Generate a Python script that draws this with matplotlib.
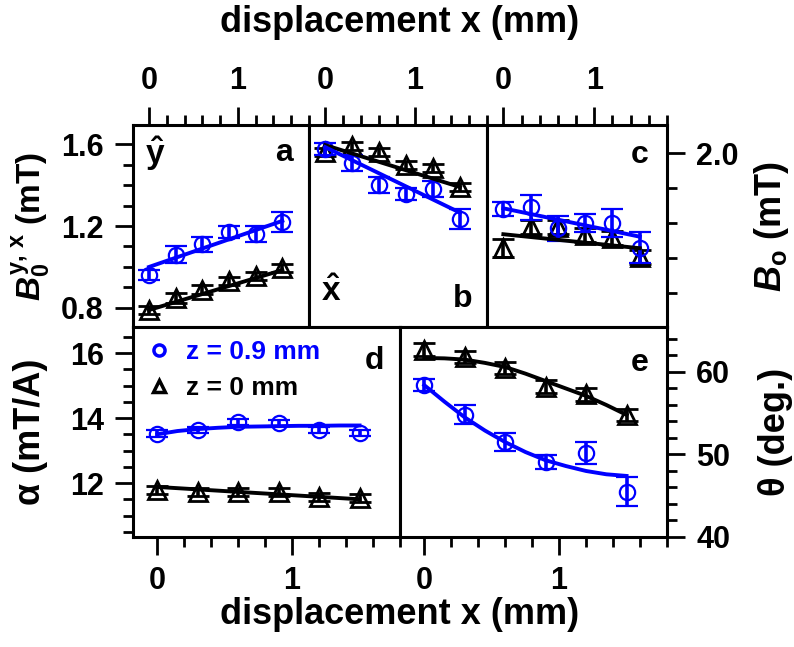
import numpy as np
import matplotlib.pyplot as plt
from matplotlib.lines import Line2D
from matplotlib.ticker import MultipleLocator

plt.rcParams['font.family'] = ['Liberation Sans', 'DejaVu Sans']
plt.rcParams['font.weight'] = 'bold'
plt.rcParams['axes.labelweight'] = 'bold'
plt.rcParams['mathtext.fontset'] = 'custom'
plt.rcParams['mathtext.rm'] = 'Liberation Sans:bold'
plt.rcParams['mathtext.it'] = 'Liberation Sans:bold:italic'
plt.rcParams['mathtext.bf'] = 'Liberation Sans:bold'

# displacement positions (mm)
x_pos = [0.0, 0.3, 0.6, 0.9, 1.2, 1.5]
fit_x_line = [0.0, 1.5]
fit_x_curve = [0.0, 0.15, 0.3, 0.45, 0.6, 0.75, 0.9, 1.05, 1.2, 1.35, 1.5]

# a: B0^y (mT)
a_blue = [0.96, 1.06, 1.11, 1.17, 1.16, 1.22]
a_blue_err = [0.025, 0.04, 0.035, 0.03, 0.04, 0.05]
a_black = [0.79, 0.85, 0.89, 0.93, 0.955, 0.995]
a_black_err = [0.02, 0.025, 0.02, 0.02, 0.02, 0.02]
a_fit_blue = [1.0, 1.225]
a_fit_black = [0.79, 0.985]

# b: B0^x (mT)
b_blue = [1.576, 1.507, 1.40, 1.356, 1.38, 1.234]
b_blue_err = [0.03, 0.04, 0.04, 0.03, 0.04, 0.05]
b_black = [1.561, 1.59, 1.561, 1.498, 1.483, 1.39]
b_black_err = [0.02, 0.02, 0.02, 0.02, 0.02, 0.02]
b_fit_blue = [1.585, 1.265]
b_fit_black = [1.595, 1.39]

# c: B_o (mT)
c_blue = [1.84, 1.845, 1.785, 1.80, 1.80, 1.73]
c_blue_err = [0.02, 0.035, 0.035, 0.025, 0.04, 0.045]
c_black = [1.728, 1.79, 1.788, 1.766, 1.756, 1.704]
c_black_err = [0.025, 0.02, 0.02, 0.02, 0.02, 0.02]
c_fit_blue = [1.842, 1.761]
c_fit_black = [1.768, 1.728]

# d: alpha (mT/A)
d_blue = [13.52, 13.63, 13.88, 13.85, 13.63, 13.54]
d_blue_err = [0.1, 0.1, 0.1, 0.1, 0.1, 0.1]
d_black = [11.78, 11.72, 11.72, 11.72, 11.57, 11.54]
d_black_err = [0.12, 0.12, 0.12, 0.12, 0.12, 0.12]
d_fit_blue = [13.5, 13.6, 13.66, 13.7, 13.73, 13.74, 13.75, 13.76, 13.76, 13.77, 13.77]
d_fit_black = [11.88, 11.5]

# e: theta (deg.)
e_blue = [58.4, 54.8, 51.5, 49.1, 50.2, 45.5]
e_blue_err = [0.75, 1.15, 1.1, 0.8, 1.3, 1.8]
e_black = [62.7, 61.8, 60.5, 58.2, 57.3, 54.8]
e_black_err = [0.8, 0.7, 0.7, 0.8, 0.8, 0.7]
e_fit_blue = [58.4, 56.4, 54.5, 52.9, 51.5, 50.3, 49.3, 48.6, 48.0, 47.6, 47.4]
e_fit_black = [61.7, 61.65, 61.5, 61.1, 60.6, 59.8, 58.9, 58.0, 57.1, 56.0, 54.8]

BLUE = '#0000ff'
W, H = 794, 647
TICK_FS = 22
LABEL_FS = 26


def rect(x0, y0, x1, y1):
    return [x0 / W, 1 - y1 / H, (x1 - x0) / W, (y1 - y0) / H]


def draw(ax, blue, blue_err, black, black_err, fit_blue, fit_black, fxb, fxk):
    ax.errorbar(x_pos, black, yerr=black_err, fmt='^', ms=13.5, mfc='none', mec='k',
                mew=2.0, ecolor='k', elinewidth=2.6, capsize=8, capthick=3, zorder=3)
    ax.errorbar(x_pos, blue, yerr=blue_err, fmt='o', ms=11, mfc='none', mec=BLUE,
                mew=1.6, ecolor=BLUE, elinewidth=2.6, capsize=8, capthick=3, zorder=4)
    ax.plot(fxk, fit_black, color='k', lw=2.8, zorder=5)
    ax.plot(fxb, fit_blue, color=BLUE, lw=2.8, zorder=6)


def style(ax, top=False, bottom=False, left=False, right=False):
    ax.set_xlim(-0.18, 1.8)
    ax.xaxis.set_major_locator(MultipleLocator(1))
    ax.xaxis.set_minor_locator(MultipleLocator(0.2))
    for sp in ax.spines.values():
        sp.set_linewidth(2.2)
    ax.tick_params(which='both', direction='out', width=2, labelsize=TICK_FS,
                   top=top, bottom=bottom, left=left, right=right,
                   labeltop=top, labelbottom=bottom, labelleft=left, labelright=right)
    ax.tick_params(which='major', length=13, pad=8)
    ax.tick_params(which='minor', length=7)


fig = plt.figure(figsize=(W / 100, H / 100), dpi=100)

ax_a = fig.add_axes(rect(133, 125, 309, 327))
ax_b = fig.add_axes(rect(309, 125, 487, 327))
ax_c = fig.add_axes(rect(487, 125, 667, 327))
ax_d = fig.add_axes(rect(133, 327, 400, 537))
ax_e = fig.add_axes(rect(400, 327, 667, 537))

draw(ax_a, a_blue, a_blue_err, a_black, a_black_err, a_fit_blue, a_fit_black, fit_x_line, fit_x_line)
draw(ax_b, b_blue, b_blue_err, b_black, b_black_err, b_fit_blue, b_fit_black, fit_x_line, fit_x_line)
draw(ax_c, c_blue, c_blue_err, c_black, c_black_err, c_fit_blue, c_fit_black, fit_x_line, fit_x_line)
draw(ax_d, d_blue, d_blue_err, d_black, d_black_err, d_fit_blue, d_fit_black, fit_x_curve, fit_x_line)
draw(ax_e, e_blue, e_blue_err, e_black, e_black_err, e_fit_blue, e_fit_black, fit_x_curve, fit_x_curve)

style(ax_a, top=True, left=True)
style(ax_b, top=True)
style(ax_c, top=True, right=True)
style(ax_d, bottom=True, left=True)
style(ax_e, bottom=True, right=True)

for ax in (ax_a, ax_b):
    ax.set_ylim(0.707, 1.693)
    ax.yaxis.set_major_locator(MultipleLocator(0.4))
    ax.yaxis.set_minor_locator(MultipleLocator(0.1))
ax_a.yaxis.set_major_formatter('{x:.1f}')

ax_c.set_ylim(1.503, 2.08)
ax_c.yaxis.set_major_locator(MultipleLocator(0.5))
ax_c.yaxis.set_minor_locator(MultipleLocator(0.1))
ax_c.yaxis.set_major_formatter('{x:.1f}')

ax_d.set_ylim(10.34, 16.8)
ax_d.yaxis.set_major_locator(MultipleLocator(2))
ax_d.yaxis.set_minor_locator(MultipleLocator(0.5))

ax_e.set_ylim(40, 65.45)
ax_e.yaxis.set_major_locator(MultipleLocator(10))
ax_e.yaxis.set_minor_locator(MultipleLocator(2))

# axis titles
ax_a.set_ylabel(r'$B_{\mathrm{0}}^{\mathrm{y,\,x}}$ (mT)', fontsize=24)
ax_a.yaxis.set_label_coords(-0.46, 0.5)
ax_d.set_ylabel('α (mT/A)', fontsize=LABEL_FS)
ax_d.yaxis.set_label_coords(-0.32, 0.5)
ax_c.yaxis.set_label_position('right')
ax_c.set_ylabel(r'$B_{\mathrm{o}}$ (mT)', fontsize=LABEL_FS)
ax_c.yaxis.set_label_coords(1.47, 0.5)
ax_e.yaxis.set_label_position('right')
ax_e.set_ylabel('θ (deg.)', fontsize=LABEL_FS)
ax_e.yaxis.set_label_coords(1.34, 0.5)

fig.text(400 / W, 1 - 22 / H, 'displacement x (mm)', ha='center', va='center', fontsize=LABEL_FS)
fig.text(400 / W, 1 - 615 / H, 'displacement x (mm)', ha='center', va='center', fontsize=LABEL_FS)

# panel tags
ax_a.text(0.07, 0.86, r'$\mathrm{\hat{y}}$', transform=ax_a.transAxes, fontsize=24, va='center')
ax_a.text(0.91, 0.86, 'a', transform=ax_a.transAxes, fontsize=23, ha='right', va='center')
ax_b.text(0.07, 0.17, r'$\mathrm{\hat{x}}$', transform=ax_b.transAxes, fontsize=24, va='center')
ax_b.text(0.92, 0.14, 'b', transform=ax_b.transAxes, fontsize=23, ha='right', va='center')
ax_c.text(0.9, 0.85, 'c', transform=ax_c.transAxes, fontsize=23, ha='right', va='center')
ax_d.text(0.94, 0.84, 'd', transform=ax_d.transAxes, fontsize=23, ha='right', va='center')
ax_e.text(0.93, 0.83, 'e', transform=ax_e.transAxes, fontsize=23, ha='right', va='center')

handles = [
    Line2D([], [], ls='none', marker='o', ms=8, mfc='none', mec=BLUE, mew=2.5),
    Line2D([], [], ls='none', marker='^', ms=9, mfc='none', mec='k', mew=2.5),
]
ax_d.legend(handles, ['z = 0.9 mm', 'z = 0 mm'], loc='upper left', frameon=False,
            prop={'size': 19, 'weight': 'bold'}, labelcolor=[BLUE, 'k'],
            handlelength=1.0, handletextpad=0.5, labelspacing=0.45,
            borderaxespad=0.2, borderpad=0.3)

fig.savefig('out.png', dpi=100)
